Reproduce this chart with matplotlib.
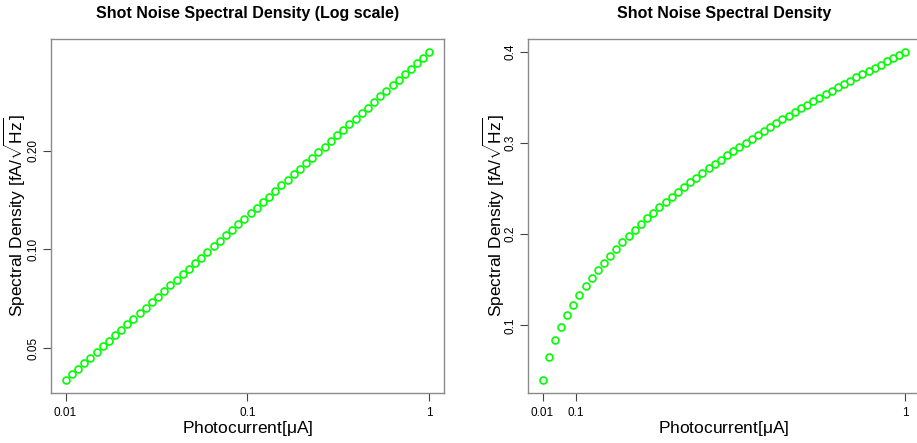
import matplotlib.pyplot as plt
import matplotlib.ticker as mticker
import numpy as np

plt.rcParams['font.family'] = ['Liberation Sans', 'DejaVu Sans']
plt.rcParams['mathtext.fontset'] = 'custom'
plt.rcParams['mathtext.rm'] = 'Liberation Sans'

# log-spaced photocurrent (uA) and density (fA/sqrt(Hz)) for the left panel
current_log = [0.0100, 0.0108, 0.0117, 0.0126, 0.0137, 0.0148, 0.0160, 0.0173, 0.0187, 0.0202,
               0.0218, 0.0236, 0.0255, 0.0276, 0.0298, 0.0323, 0.0349, 0.0377, 0.0408, 0.0441,
               0.0477, 0.0515, 0.0557, 0.0602, 0.0651, 0.0704, 0.0761, 0.0823, 0.0890, 0.0962,
               0.1040, 0.1125, 0.1216, 0.1315, 0.1422, 0.1537, 0.1662, 0.1797, 0.1943, 0.2101,
               0.2271, 0.2456, 0.2655, 0.2871, 0.3104, 0.3356, 0.3628, 0.3923, 0.4241, 0.4586,
               0.4958, 0.5361, 0.5796, 0.6266, 0.6775, 0.7325, 0.7920, 0.8563, 0.9259, 1.0000]
density_log = [0.0400, 0.0416, 0.0433, 0.0450, 0.0468, 0.0486, 0.0506, 0.0526, 0.0547, 0.0568,
               0.0591, 0.0615, 0.0639, 0.0664, 0.0691, 0.0718, 0.0747, 0.0777, 0.0808, 0.0840,
               0.0873, 0.0908, 0.0944, 0.0981, 0.1021, 0.1061, 0.1104, 0.1148, 0.1193, 0.1241,
               0.1290, 0.1342, 0.1395, 0.1450, 0.1508, 0.1568, 0.1631, 0.1696, 0.1763, 0.1833,
               0.1906, 0.1982, 0.2061, 0.2143, 0.2228, 0.2317, 0.2409, 0.2505, 0.2605, 0.2709,
               0.2817, 0.2929, 0.3045, 0.3166, 0.3292, 0.3424, 0.3560, 0.3702, 0.3849, 0.4000]

# linearly spaced photocurrent for the right panel
current_lin = [0.0100, 0.0268, 0.0436, 0.0603, 0.0771, 0.0939, 0.1107, 0.1275, 0.1442, 0.1610,
               0.1778, 0.1946, 0.2114, 0.2281, 0.2449, 0.2617, 0.2785, 0.2953, 0.3120, 0.3288,
               0.3456, 0.3624, 0.3792, 0.3959, 0.4127, 0.4295, 0.4463, 0.4631, 0.4798, 0.4966,
               0.5134, 0.5302, 0.5469, 0.5637, 0.5805, 0.5973, 0.6141, 0.6308, 0.6476, 0.6644,
               0.6812, 0.6980, 0.7147, 0.7315, 0.7483, 0.7651, 0.7819, 0.7986, 0.8154, 0.8322,
               0.8490, 0.8658, 0.8825, 0.8993, 0.9161, 0.9329, 0.9497, 0.9664, 0.9832, 1.0000]
density_lin = [0.0400, 0.0655, 0.0835, 0.0982, 0.1111, 0.1226, 0.1331, 0.1428, 0.1519, 0.1605,
               0.1687, 0.1765, 0.1839, 0.1910, 0.1980, 0.2046, 0.2111, 0.2174, 0.2234, 0.2294,
               0.2352, 0.2408, 0.2463, 0.2517, 0.2570, 0.2621, 0.2672, 0.2722, 0.2771, 0.2819,
               0.2866, 0.2913, 0.2958, 0.3003, 0.3048, 0.3091, 0.3135, 0.3177, 0.3219, 0.3260,
               0.3301, 0.3342, 0.3382, 0.3421, 0.3460, 0.3499, 0.3537, 0.3575, 0.3612, 0.3649,
               0.3686, 0.3722, 0.3758, 0.3793, 0.3829, 0.3863, 0.3898, 0.3932, 0.3966, 0.4000]

x_ticks = [0.01, 0.1, 1]
x_labels = ['0.01', '0.1', '1']
y_ticks_log = [0.05, 0.10, 0.20]
y_labels_log = ['0.05', '0.10', '0.20']
y_ticks_lin = [0.1, 0.2, 0.3, 0.4]
y_labels_lin = ['0.1', '0.2', '0.3', '0.4']

ylabel = r'Spectral Density [fA/$\sqrt{\mathrm{Hz}}$]'
xlabel = r'Photocurrent[$\mathrm{\mu}$A]'

fig = plt.figure(figsize=(9.17, 4.43), dpi=100)
ax1 = fig.add_axes([51/917, 1 - 393/443, 393/917, 354/443])
# the right panel runs slightly past the figure edge, as in the original
ax2 = fig.add_axes([528/917, 1 - 393/443, 392/917, 354/443])

def style(ax):
    for s in ax.spines.values():
        s.set_color('#8a8a8a')
        s.set_linewidth(1.0)
    ax.tick_params(direction='out', length=6, width=0.8, color='#444444',
                   labelsize=8.5)
    ax.tick_params(axis='x', pad=4)
    ax.tick_params(axis='y', labelrotation=90, pad=2)
    for lab in ax.get_yticklabels():
        lab.set_va('center')
    ax.minorticks_off()

ax1.plot(current_log, density_log, 'o', mfc='none', mec='#00ff00', ms=5, mew=1.2)
ax1.set_xscale('log')
ax1.set_yscale('log')
lx = np.log10([min(current_log), max(current_log)])
ly = np.log10([min(density_log), max(density_log)])
ax1.set_xlim(10 ** (lx[0] - 0.04 * (lx[1] - lx[0])), 10 ** (lx[1] + 0.04 * (lx[1] - lx[0])))
ax1.set_ylim(10 ** (ly[0] - 0.04 * (ly[1] - ly[0])), 10 ** (ly[1] + 0.04 * (ly[1] - ly[0])))
ax1.xaxis.set_major_locator(mticker.FixedLocator(x_ticks))
ax1.xaxis.set_major_formatter(mticker.FixedFormatter(x_labels))
ax1.yaxis.set_major_locator(mticker.FixedLocator(y_ticks_log))
ax1.yaxis.set_major_formatter(mticker.FixedFormatter(y_labels_log))
ax1.set_title('Shot Noise Spectral Density (Log scale)', fontsize=11.5,
              fontweight='bold', pad=15)
style(ax1)

ax2.plot(current_lin, density_lin, 'o', mfc='none', mec='#00ff00', ms=5, mew=1.2)
rx = max(current_lin) - min(current_lin)
ry = max(density_lin) - min(density_lin)
ax2.set_xlim(min(current_lin) - 0.04 * rx, max(current_lin) + 0.04 * rx)
ax2.set_ylim(min(density_lin) - 0.04 * ry, max(density_lin) + 0.04 * ry)
ax2.set_xticks(x_ticks)
ax2.set_xticklabels(x_labels)
ax2.set_yticks(y_ticks_lin)
ax2.set_yticklabels(y_labels_lin)
ax2.set_title('Shot Noise Spectral Density', fontsize=11.5, fontweight='bold', pad=15)
style(ax2)

for ax in (ax1, ax2):
    ax.set_xlabel(xlabel, fontsize=12.5, va='center')
    ax.set_ylabel(ylabel, fontsize=12.5, va='center')
    ax.xaxis.set_label_coords(0.5, -0.1)
ax1.yaxis.set_label_coords(-0.092, 0.5)
ax2.yaxis.set_label_coords(-0.088, 0.5)

fig.savefig('out.png', dpi=100)
